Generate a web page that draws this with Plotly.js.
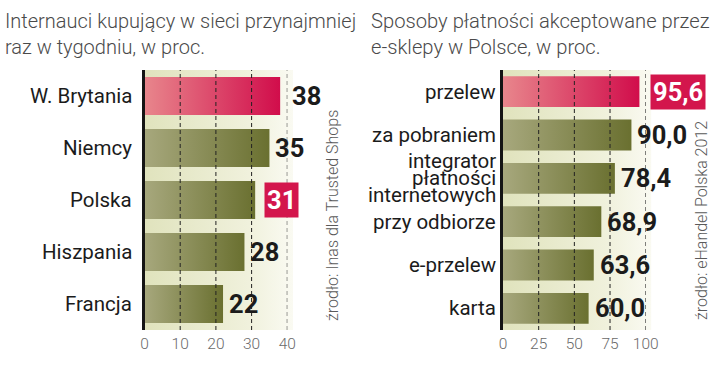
<!DOCTYPE html>
<html>
<head>
<meta charset="utf-8">
<script src="https://cdn.plot.ly/plotly-3.0.1.min.js"></script>
<style>html,body{margin:0;padding:0;background:#fff;}#chart{width:720px;height:376px;}</style>
</head>
<body>
<div id="chart"></div>
<script>
// ---- data ----
const leftTitle = ["Internauci kupujący w sieci przynajmniej", "raz w tygodniu, w proc."];
const leftCategories = ["W. Brytania", "Niemcy", "Polska", "Hiszpania", "Francja"];
const leftValues = [38, 35, 31, 28, 22];
const leftTicks = [0, 10, 20, 30, 40];
const leftSource = "źrodło: Inas dla Trusted Shops";
const leftRedBar = 0;      // highlighted bar
const leftRedLabel = 2;    // highlighted value label

const rightTitle = ["Sposoby płatności akceptowane przez", "e-sklepy w Polsce, w proc."];
const rightCategories = ["przelew", "za pobraniem", "integrator<br>płatności<br>internetowych", "przy odbiorze", "e-przelew", "karta"];
const rightValues = [95.6, 90.0, 78.4, 68.9, 63.6, 60.0];
const rightTicks = [0, 25, 50, 75, 100];
const rightSource = "źrodło: eHandel Polska 2012";
const rightRedBar = 0;
const rightRedLabel = 0;

// ---- styles ----
const W = 720, H = 376;
const labelFont = "Roboto, 'Liberation Sans', sans-serif";
const lightFont = "Roboto, 'Open Sans', sans-serif";
const numFont = "Roboto, 'Liberation Sans', sans-serif";
const redScale = [[0, '#e8868c'], [1, '#d10d4b']];
const oliveScale = [[0, '#a7a87d'], [1, '#6a7030']];
const redBox = '#d3164c';

const plotTop = 70, plotBottom = 330;
const yDom = [1 - plotBottom / H, 1 - plotTop / H];

const traces = [];
const shapes = [];
const annotations = [];
const images = [];

function bgImage(xa, ya) {
  const svg = "<svg xmlns='http://www.w3.org/2000/svg' width='100' height='100' preserveAspectRatio='none'>" +
    "<defs><linearGradient id='g' x1='0' x2='1' y1='0' y2='0'>" +
    "<stop offset='0' stop-color='#e0e3bd'/><stop offset='0.7' stop-color='#f0f1dc'/><stop offset='1' stop-color='#fafaf2'/>" +
    "</linearGradient></defs><rect width='100' height='100' fill='url(#g)'/></svg>";
  return {
    source: 'data:image/svg+xml;charset=utf-8,' + encodeURIComponent(svg),
    xref: xa + ' domain', yref: ya + ' domain', x: 0, y: 1, sizex: 1.04, sizey: 1,
    xanchor: 'left', yanchor: 'top', sizing: 'stretch', layer: 'below'
  };
}

function panel(opts) {
  const {cats, vals, ticks, xa, ya, half, redBar, redLabel, fmt, labelGap} = opts;
  const maxTick = ticks[ticks.length - 1];
  vals.forEach((v, i) => {
    traces.push({
      type: 'scatter', mode: 'lines', xaxis: xa, yaxis: ya,
      x: [0, v, v, 0, 0],
      y: [i - half, i - half, i + half, i + half, i - half],
      fill: 'toself', line: {width: 0, color: 'rgba(0,0,0,0)'},
      fillgradient: {type: 'horizontal', colorscale: i === redBar ? redScale : oliveScale},
      hoverinfo: 'skip', showlegend: false
    });
    const nearEnd = (maxTick - v) < 0.06 * maxTick;
    const isRed = i === redLabel;
    annotations.push({
      xref: xa, yref: ya, x: nearEnd ? maxTick : v, y: i,
      xanchor: 'left', yanchor: 'middle', xshift: nearEnd ? 4 : (isRed ? 9 : 5),
      text: '<b>' + fmt(v) + '</b>', showarrow: false,
      font: {family: numFont, size: 25.5, color: isRed ? '#ffffff' : '#1b1b1b', weight: 700},
      bgcolor: isRed ? redBox : 'rgba(0,0,0,0)', borderpad: isRed ? 2 : 0
    });
  });
  // category labels (tight line spacing for wrapped labels)
  cats.forEach((c, i) => {
    const lines = c.split('<br>');
    lines.forEach((ln, k) => {
      annotations.push({
        xref: xa, yref: ya, x: 0, y: i, xanchor: 'right', yanchor: 'middle',
        xshift: -labelGap, yshift: -((k - (lines.length - 1) / 2) * 17),
        text: ln, showarrow: false,
        font: {family: labelFont, size: 20.5, color: '#1b1b1b', weight: 400}
      });
    });
  });
  ticks.slice(1).forEach(t => {
    shapes.push({
      type: 'line', xref: xa, yref: ya + ' domain', x0: t, x1: t, y0: 0, y1: 1,
      line: {color: '#222', width: 1, dash: '4px,3px'}, layer: 'above'
    });
  });
  images.push(bgImage(xa, ya));
}

const leftDom = [144.5 / W, 287.3 / W];
const rightDom = [503 / W, 645.7 / W];

panel({cats: leftCategories, vals: leftValues, ticks: leftTicks, xa: 'x', ya: 'y', half: 0.365,
  redBar: leftRedBar, redLabel: leftRedLabel, fmt: v => String(v), labelGap: 11});
panel({cats: rightCategories, vals: rightValues, ticks: rightTicks, xa: 'x2', ya: 'y2', half: 0.356,
  redBar: rightRedBar, redLabel: rightRedLabel, fmt: v => v.toFixed(1).replace('.', ','), labelGap: 5});

// titles
[[leftTitle, 3, 20], [rightTitle, 369, 20.2]].forEach(([lines, px, fs]) => {
  lines.forEach((t, k) => {
    annotations.push({
      xref: 'paper', yref: 'paper', x: px / W, y: 1 - (21 + k * 26) / H,
      xanchor: 'left', yanchor: 'middle', text: t, showarrow: false, align: 'left',
      font: {family: lightFont, size: fs, color: '#4a4a4a', weight: 300}
    });
  });
});
// sources
[[leftSource, 332, 216], [rightSource, 701, 221]].forEach(([t, px, py]) => {
  annotations.push({
    xref: 'paper', yref: 'paper', x: px / W, y: 1 - py / H, xanchor: 'center', yanchor: 'middle',
    text: t, textangle: -90, showarrow: false,
    font: {family: lightFont, size: 16, color: '#5a5a5a', weight: 300}
  });
});

function xaxis(dom, ticks, anchor) {
  return {
    domain: dom, range: [0, ticks[ticks.length - 1]], anchor: anchor,
    tickvals: ticks, ticktext: ticks.map(String), showgrid: false, zeroline: false,
    showline: false, ticks: '', ticklabelstandoff: 2,
    tickfont: {family: lightFont, size: 15.5, color: '#6a6a6a', weight: 300}, fixedrange: true
  };
}
function yaxis(cats, anchor) {
  return {
    domain: yDom, range: [cats.length - 0.5, -0.5], anchor: anchor,
    showticklabels: false, showgrid: false, zeroline: false,
    showline: true, linecolor: '#141414', linewidth: 3, ticks: '', fixedrange: true
  };
}

const layout = {
  width: W, height: H, margin: {l: 0, r: 0, t: 0, b: 0},
  paper_bgcolor: '#ffffff', plot_bgcolor: 'rgba(0,0,0,0)', showlegend: false,
  xaxis: xaxis(leftDom, leftTicks, 'y'),
  yaxis: yaxis(leftCategories, 'x'),
  xaxis2: xaxis(rightDom, rightTicks, 'y2'),
  yaxis2: yaxis(rightCategories, 'x2'),
  shapes: shapes, annotations: annotations, images: images
};

Plotly.newPlot('chart', traces, layout, {displayModeBar: false, staticPlot: true});
</script>
</body>
</html>
